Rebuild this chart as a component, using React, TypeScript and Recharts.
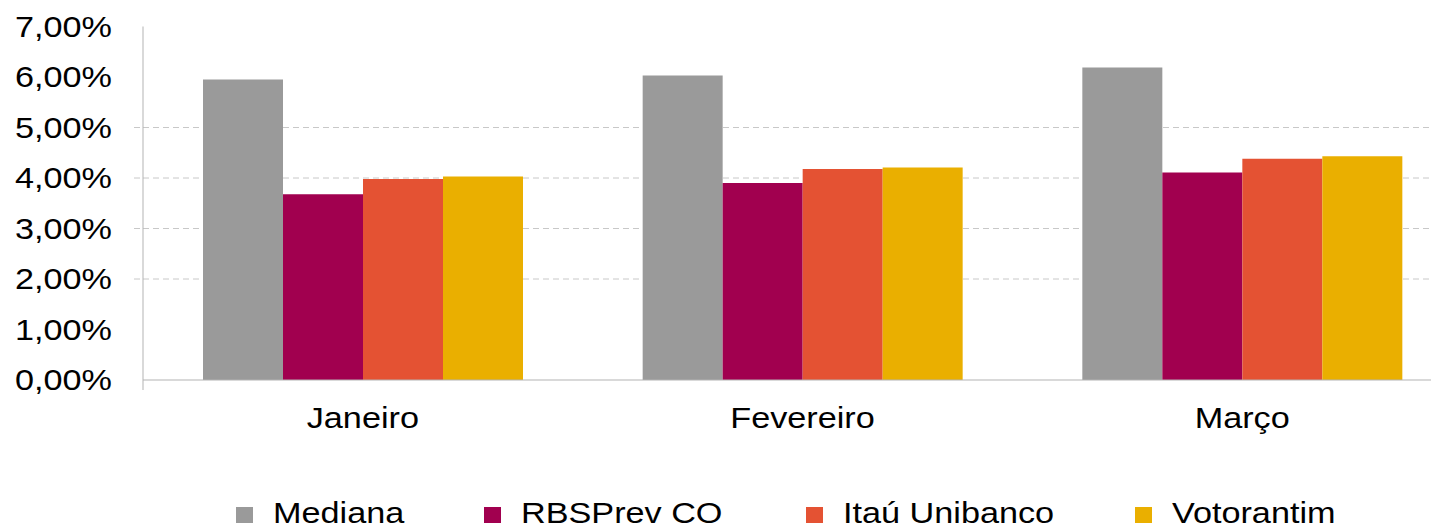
import { BarChart, Bar, XAxis, YAxis, CartesianGrid } from 'recharts';

const CATEGORIES = ['Janeiro', 'Fevereiro', 'Março'];
const MEDIANA = [5.95, 6.03, 6.19];
const RBSPREV = [3.68, 3.9, 4.11];
const ITAU = [3.98, 4.18, 4.38];
const VOTORANTIM = [4.03, 4.21, 4.43];

const SERIES_KEYS = ['mediana', 'rbsprev', 'itau', 'votorantim'];
const SERIES_NAMES = ['Mediana', 'RBSPrev CO', 'Itaú Unibanco', 'Votorantim'];
const SERIES_COLORS = ['#9a9a9a', '#a1004f', '#e45233', '#eaaf00'];

const Y_TICKS = [0, 1, 2, 3, 4, 5, 6, 7];
const GRID_VALUES = [2, 3, 4, 5];

// layout of the legend (x of each marker, in the wrapper)
const LEGEND_X = [228, 476, 798, 1127];

const FONT = '"Liberation Sans", Arial, sans-serif';
const SX = 1.18; // the source text is a bit wider than plain Arial
const AXIS_COLOR = '#b3b3b3';
const GRID_COLOR = '#c8c8c8';
const TEXT_COLOR = '#000';

const data = CATEGORIES.map((name, i) => ({
  name,
  mediana: MEDIANA[i],
  rbsprev: RBSPREV[i],
  itau: ITAU[i],
  votorantim: VOTORANTIM[i],
}));

const fmtPct = (v: number) => v.toFixed(2).replace('.', ',') + '%';

function YTick(props: any) {
  const { x, y, payload } = props;
  const v = payload.value as number;
  return (
    <g>
      {GRID_VALUES.includes(v) && (
        <line x1={x - 9} x2={x} y1={y} y2={y} stroke={GRID_COLOR} strokeDasharray="6 4" />
      )}
      {v === 0 && <line x1={x} x2={x} y1={y} y2={y + 10} stroke={AXIS_COLOR} />}
      <g transform={`translate(${x - 31},${y}) scale(${SX},1)`}>
        <text textAnchor="end" dy="0.36em" fontSize={29} fontFamily={FONT} fill={TEXT_COLOR}>
          {fmtPct(v)}
        </text>
      </g>
    </g>
  );
}

function XTick(props: any) {
  const { x, y, payload } = props;
  return (
    <g transform={`translate(${x},${y + 48}) scale(${SX},1)`}>
      <text textAnchor="middle" fontSize={29} fontFamily={FONT} fill={TEXT_COLOR}>
        {payload.value}
      </text>
    </g>
  );
}

export default function App() {
  return (
    <div style={{ position: 'relative', width: 1431, height: 521, overflow: 'hidden', background: '#fff' }}>
      <BarChart
        width={1460}
        height={521}
        data={data}
        margin={{ top: 18.5, right: 6, bottom: 0, left: 0 }}
        barGap={0}
        barSize={80}
      >
        <CartesianGrid
          vertical={false}
          horizontalValues={GRID_VALUES}
          stroke={GRID_COLOR}
          strokeDasharray="6 4"
        />
        <XAxis
          dataKey="name"
          height={149}
          tickSize={0}
          tickMargin={0}
          tickLine={false}
          axisLine={{ stroke: AXIS_COLOR }}
          tick={<XTick />}
        />
        <YAxis
          width={135}
          domain={[0, 7]}
          ticks={Y_TICKS}
          tickSize={0}
          tickMargin={0}
          tickLine={false}
          axisLine={{ stroke: AXIS_COLOR }}
          tick={<YTick />}
        />
        {SERIES_KEYS.map((k, i) => (
          <Bar key={k} dataKey={k} name={SERIES_NAMES[i]} fill={SERIES_COLORS[i]} isAnimationActive={false} />
        ))}
      </BarChart>
      <svg
        width={1431}
        height={521}
        style={{ position: 'absolute', left: 0, top: 0, pointerEvents: 'none' }}
      >
        {SERIES_NAMES.map((n, i) => (
          <g key={n}>
            <rect x={LEGEND_X[i]} y={499} width={17} height={16} fill={SERIES_COLORS[i]} />
            <g transform={`translate(${LEGEND_X[i] + 37},515) scale(${SX},1)`}>
              <text fontSize={29} fontFamily={FONT} fill={TEXT_COLOR}>
                {n}
              </text>
            </g>
          </g>
        ))}
      </svg>
    </div>
  );
}
